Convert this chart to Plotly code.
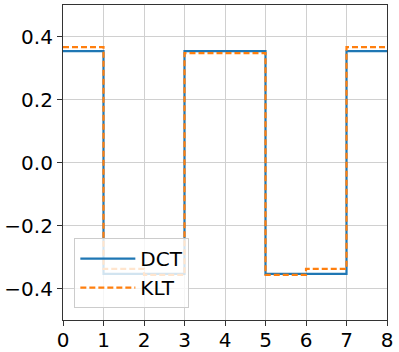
import plotly.graph_objects as go

x_edges = [0, 1, 2, 3, 4, 5, 6, 7, 8]
dct_vals = [0.3536, -0.3536, -0.3536, 0.3536, 0.3536, -0.3536, -0.3536, 0.3536]
klt_vals = [0.366, -0.338, -0.357, 0.347, 0.347, -0.357, -0.338, 0.366]
x_ticks = [0, 1, 2, 3, 4, 5, 6, 7, 8]
y_ticks = [-0.4, -0.2, 0.0, 0.2, 0.4]
y_labels = ["\u22120.4", "\u22120.2", "0.0", "0.2", "0.4"]

fig = go.Figure()
fig.add_trace(go.Scatter(x=x_edges, y=dct_vals + [dct_vals[-1]], mode="lines",
                         line=dict(shape="hv", color="#1f77b4", width=2.2), name="DCT"))
fig.add_trace(go.Scatter(x=x_edges, y=klt_vals + [klt_vals[-1]], mode="lines",
                         line=dict(shape="hv", color="#ff7f0e", width=2.2, dash="6px,3px"), name="KLT"))

axis_common = dict(showgrid=True, gridcolor="#d0d0d0", gridwidth=1, zeroline=False,
                   showline=True, linecolor="#333333", linewidth=1.2, mirror=True,
                   ticks="outside", ticklen=5, tickcolor="#333333", automargin=False,
                   tickfont=dict(family="DejaVu Sans", size=20, color="black"))
fig.update_xaxes(range=[0, 8], tickvals=x_ticks, ticklabelstandoff=-3, **axis_common)
fig.update_yaxes(range=[-0.5, 0.5], tickvals=y_ticks, ticktext=y_labels, **axis_common)

fig.update_layout(
    width=399, height=352,
    margin=dict(l=63, r=12, t=5, b=32),
    plot_bgcolor="white", paper_bgcolor="white",
    showlegend=True,
    legend=dict(x=0.035, y=0.038, xanchor="left", yanchor="bottom",
                bgcolor="rgba(255,255,255,0.8)", bordercolor="#cccccc", borderwidth=1,
                font=dict(family="DejaVu Sans", size=20, color="black"),
                itemwidth=55, tracegroupgap=4),
)
fig.write_html("out.html", config={"displayModeBar": False},
               post_script="document.body.style.margin='0';document.body.style.overflow='hidden';")
